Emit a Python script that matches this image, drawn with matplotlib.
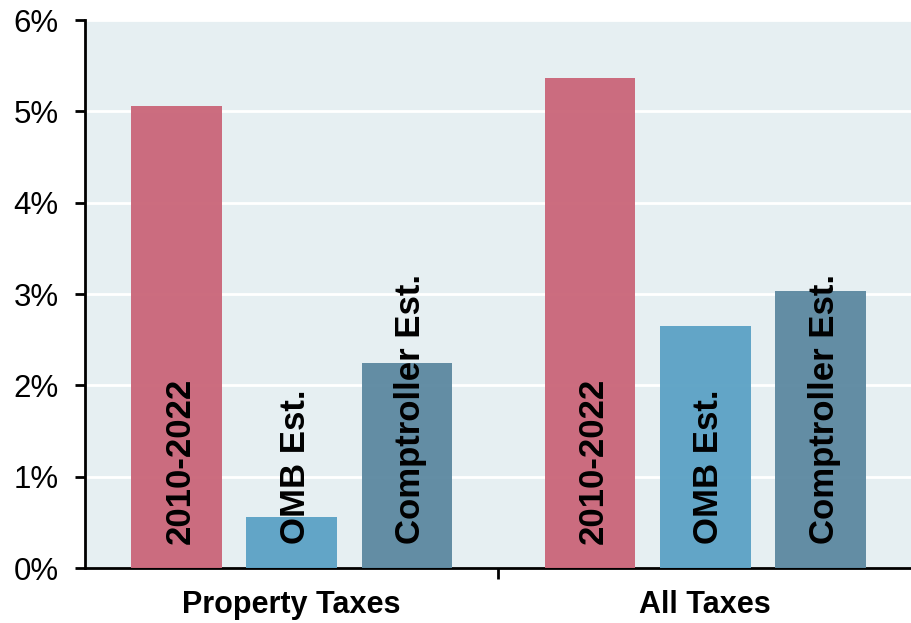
import matplotlib
matplotlib.use("Agg")
import matplotlib.pyplot as plt
import numpy as np

categories = ["Property Taxes", "All Taxes"]
series_names = ["2010-2022", "OMB Est.", "Comptroller Est."]
values = {
    "2010-2022": [5.06, 5.37],
    "OMB Est.": [0.56, 2.65],
    "Comptroller Est.": [2.25, 3.03],
}
colors = ["#cb687b", "#5ea3c6", "#5f8aa2"]
yticks = [0, 1, 2, 3, 4, 5, 6]
ytick_labels = ["0%", "1%", "2%", "3%", "4%", "5%", "6%"]

plt.rcParams['font.family'] = ['Liberation Sans', 'DejaVu Sans']
fig = plt.figure(figsize=(9.12, 6.23), dpi=100)
ax = fig.add_axes([85/912, 1 - 568/623, 1 - 85/912, (568 - 20)/623])
ax.set_facecolor("#e6eff2")

x = np.arange(len(categories))
width = 0.219
step = 0.279
for i, name in enumerate(series_names):
    xs = x + (i - 1) * step
    ax.bar(xs, values[name], width=width, color=colors[i], alpha=0.97, zorder=3)
    for xi in xs:
        ax.annotate(name, xy=(xi, 0), xytext=(2.5, 17), textcoords="offset points",
                    rotation=90, ha="center", va="bottom", fontsize=25,
                    fontweight="bold", color="black", zorder=4)

ax.set_ylim(0, 6)
ax.set_xlim(-0.5, 1.5)
ax.set_yticks(yticks)
ax.set_yticklabels(ytick_labels, fontsize=22.5)
ax.yaxis.grid(True, color="white", linewidth=2, zorder=1)
ax.set_axisbelow(True)

ax.set_xticks([0.5])
ax.set_xticklabels([""])
ax.tick_params(axis="x", length=8, width=2)
ax.tick_params(axis="y", length=7, width=2, pad=12)
for xi, c in zip(x, categories):
    ax.annotate(c, xy=(xi, 0), xycoords=("data", "axes fraction"), xytext=(0, -16),
                textcoords="offset points", ha="center", va="top", fontsize=22,
                fontweight="bold")

for s in ["top", "right"]:
    ax.spines[s].set_visible(False)
ax.spines["left"].set_linewidth(2)
ax.spines["bottom"].set_linewidth(2)

fig.savefig("out.png", dpi=100)
